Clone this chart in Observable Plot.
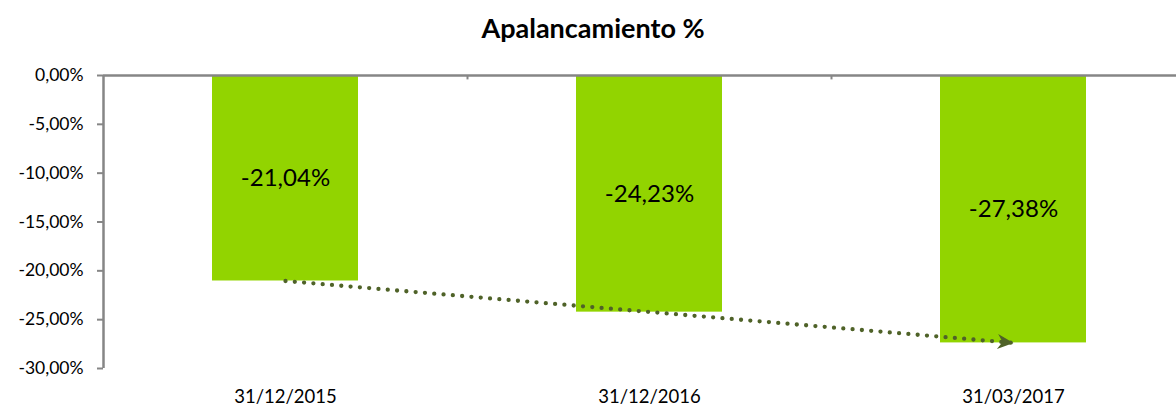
<!DOCTYPE html>
<html>
<head>
<meta charset="utf-8">
<script src="https://cdn.jsdelivr.net/npm/d3@7"></script>
<script src="https://cdn.jsdelivr.net/npm/@observablehq/plot@0.6"></script>
<style>
  html, body { margin: 0; padding: 0; background: #fff; }
  #wrap { width: 1176px; height: 408px; overflow: hidden; font-family: Lato, "Open Sans", sans-serif; }
  #title { height: 36px; padding-top: 14px; font-size: 27px; line-height: 28px; font-weight: bold; text-align: center; color: #000; padding-left: 10px; }
</style>
</head>
<body>
<div id="wrap">
  <div id="title">Apalancamiento %</div>
  <div id="chart"></div>
</div>
<script>
const categories = ["31/12/2015", "31/12/2016", "31/03/2017"];
const values = [-21.04, -24.23, -27.38];
const yTicks = [0, -5, -10, -15, -20, -25, -30];

const W = 1176, H = 358, mL = 103, mR = -19, mT = 25, mB = 40;
const step = (W - mL - mR) / categories.length;
const pxPerUnit = (H - mT - mB) / 30;

const gray = "#868686";
const green = "#92D400";
const olive = "#4F6228";

const fmt = d => d.toFixed(2).replace(".", ",") + "%";

const bars = categories.map((c, i) => ({c, v: values[i]}));
const trend = [bars[0], bars[bars.length - 1]];

const dxPx = step * (categories.length - 1);
const dyPx = (trend[0].v - trend[1].v) * pxPerUnit;
const angle = 90 + Math.atan2(dyPx, dxPx) * 180 / Math.PI;

const arrowSymbol = {
  draw(ctx, size) {
    ctx.moveTo(0, 0);
    ctx.lineTo(-7.5, 16);
    ctx.lineTo(0, 11);
    ctx.lineTo(7.5, 16);
    ctx.closePath();
  }
};

const chart = Plot.plot({
  width: W,
  height: H,
  marginLeft: mL,
  marginRight: mR,
  marginTop: mT,
  marginBottom: mB,
  style: {fontFamily: "Lato, 'Open Sans', sans-serif", fontSize: "17px", color: "#000", overflow: "hidden", background: "#fff"},
  x: {domain: categories, paddingInner: 0.6, paddingOuter: 0.3, label: null},
  y: {domain: [-30, 0], label: null},
  marks: [
    Plot.barY(bars, {x: "c", y: "v", fill: green}),
    Plot.ruleY([0], {stroke: gray, strokeWidth: 2.5}),
    Plot.ruleX([categories[0]], {y1: -30, y2: 0, dx: -step / 2, stroke: gray, strokeWidth: 2.5}),
    Plot.ruleX(categories.slice(1), {y1: 0, y2: -0.45, dx: -step / 2, stroke: gray, strokeWidth: 2}),
    Plot.axisY({ticks: yTicks, tickFormat: fmt, tickSize: 6, tickPadding: 14, stroke: gray, strokeWidth: 2, fontSize: 17.5, label: null}),
    Plot.axisX({tickSize: 0, tickPadding: 21, fontSize: 18.5, label: null}),
    Plot.text(bars, {x: "c", y: d => d.v / 2, text: d => fmt(d.v), fontSize: 24, fill: "#000"}),
    Plot.line(trend, {x: "c", y: "v", stroke: olive, strokeWidth: 4.3, strokeDasharray: "0 9.33", strokeLinecap: "round"}),
    Plot.dot([trend[1]], {x: "c", y: "v", symbol: arrowSymbol, rotate: angle, fill: olive, stroke: "none", r: 8})
  ]
});
document.getElementById("chart").appendChild(chart);
</script>
</body>
</html>
